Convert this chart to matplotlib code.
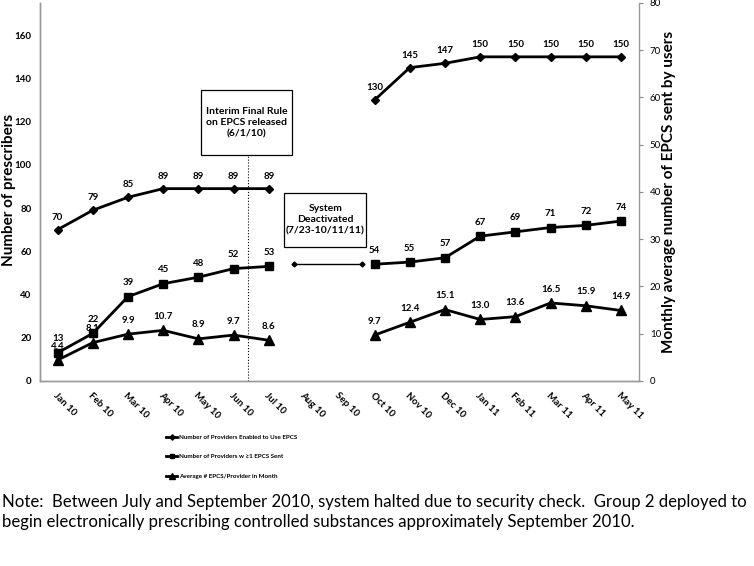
import matplotlib
matplotlib.use("Agg")
import matplotlib.pyplot as plt
from matplotlib.patches import Rectangle
import numpy as np

plt.rcParams['font.family'] = ['Lato', 'DejaVu Sans']

# ---- data ----
months = ["Jan 10", "Feb 10", "Mar 10", "Apr 10", "May 10", "Jun 10", "Jul 10",
          "Aug 10", "Sep 10", "Oct 10", "Nov 10", "Dec 10", "Jan 11", "Feb 11",
          "Mar 11", "Apr 11", "May 11"]
nan = np.nan
enabled = [70, 79, 85, 89, 89, 89, 89, nan, nan, 130, 145, 147, 150, 150, 150, 150, 150]
sent = [13, 22, 39, 45, 48, 52, 53, nan, nan, 54, 55, 57, 67, 69, 71, 72, 74]
avg_epcs = [4.4, 8.1, 9.9, 10.7, 8.9, 9.7, 8.6, nan, nan, 9.7, 12.4, 15.1, 13.0, 13.6, 16.5, 15.9, 14.9]

rule_x = 5.4               # interim final rule released
deact_span = [6.7, 8.65]   # system deactivated bar
deact_level = 54

x = np.arange(len(months))

fig = plt.figure(figsize=(7.54, 5.66), dpi=100)
ax = fig.add_axes([0.053, 0.327, 0.794, 0.668])
ax2 = ax.twinx()

ax.plot(x, enabled, color='black', lw=2, marker='D', ms=4.5, label="Number of Providers Enabled to Use EPCS")
ax.plot(x, sent, color='black', lw=2, marker='s', ms=6, label="Number of Providers w \u22651 EPCS Sent")
ax2.plot(x, avg_epcs, color='black', lw=2, marker='^', ms=7, label="Average # EPCS/Provider in Month")

# data labels
for xi, v in zip(x, enabled):
    if not np.isnan(v):
        ax.annotate(f"{v:.0f}", (xi, v), xytext=(0, 9), textcoords='offset points',
                    ha='center', va='center', fontsize=7, fontweight='bold')
for xi, v in zip(x, sent):
    if not np.isnan(v):
        ax.annotate(f"{v:.0f}", (xi, v), xytext=(0, 10), textcoords='offset points',
                    ha='center', va='center', fontsize=7, fontweight='bold')
for xi, v in zip(x, avg_epcs):
    if not np.isnan(v):
        ax2.annotate(f"{v:.1f}", (xi, v), xytext=(0, 10), textcoords='offset points',
                     ha='center', va='center', fontsize=7, fontweight='bold')

# system deactivated line
ax.plot(deact_span, [deact_level, deact_level], color='black', lw=1, marker='D', ms=2.5)

# interim rule line and boxes
ax.plot([rule_x, rule_x], [0, 104.5], color='black', lw=0.8, ls=':')
ax.add_patch(Rectangle((4.06, 104.5), 2.61, 30.1, fill=False, lw=0.9, ec='black', zorder=5))
ax.text(5.365, 119.5, "Interim Final Rule\non EPCS released\n(6/1/10)", ha='center', va='center',
        fontsize=7.5, fontweight='bold', linespacing=1.3)
ax.add_patch(Rectangle((6.44, 62), 2.33, 25, fill=False, lw=0.9, ec='black', zorder=5))
ax.text(7.605, 74.5, "System\nDeactivated\n(7/23-10/11/11)", ha='center', va='center',
        fontsize=7.5, fontweight='bold', linespacing=1.3)

ax.set_xlim(-0.5, 16.5)
ax.set_ylim(0, 175)
ax.set_yticks(range(0, 161, 20))
ax2.set_ylim(0, 80)
ax2.set_yticks(range(0, 81, 10))

ax.set_xticks(x)
ax.set_xticklabels(months, rotation=-45, ha='left', va='top', rotation_mode='anchor',
                   fontsize=7, fontweight='bold')
ax.tick_params(axis='x', length=0, pad=7)
ax.tick_params(axis='y', length=0, labelsize=7, pad=6)
for lbl in ax.get_yticklabels():
    lbl.set_fontweight('bold')
ax2.tick_params(axis='y', length=3, labelsize=7, color='#888888', pad=5)

for a in (ax, ax2):
    a.spines['top'].set_visible(False)
    for s in ('left', 'right', 'bottom'):
        a.spines[s].set_color('#999999')
        a.spines[s].set_linewidth(1)
ax.spines['right'].set_visible(False)

# axis titles as figure text
fig.text(9 / 754, 1 - 190 / 566, "Number of prescribers", rotation=90, ha='center', va='center',
         fontsize=11, fontweight='bold')
fig.text(669 / 754, 1 - 192 / 566, "Monthly average number of EPCS sent by users", rotation=90,
         ha='center', va='center', fontsize=11, fontweight='bold')

h1, l1 = ax.get_legend_handles_labels()
h2, l2 = ax2.get_legend_handles_labels()
fig.legend(h1 + h2, l1 + l2, loc='center left', bbox_to_anchor=(0.213, 0.193),
           frameon=False, labelspacing=2.3, handlelength=1.8,
           handletextpad=0.2, markerscale=0.6,
           prop={'size': 4.5, 'weight': 'bold'})

fig.text(0.002, 1 - 494 / 566, "Note:  Between July and September 2010, system halted due to security check.  Group 2 deployed to\n"
         "begin electronically prescribing controlled substances approximately September 2010.",
         ha='left', va='top', fontsize=12.1, linespacing=1.3)

fig.savefig("out.png", dpi=100)
